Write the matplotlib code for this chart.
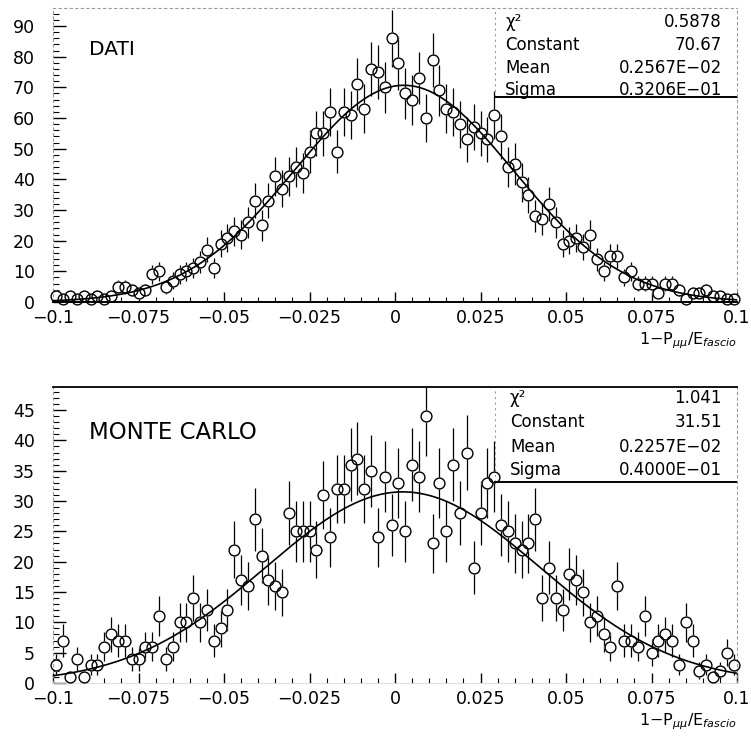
import numpy as np
import matplotlib.pyplot as plt
from matplotlib.ticker import MultipleLocator, FixedLocator

# istogramma: 100 bin tra -0.1 e 0.1
x_lo, x_hi, n_bins = -0.1, 0.1, 100

dati_counts = [2, 1, 2, 1, 2, 1, 2, 1, 2, 5,
               5, 4, 3, 4, 9, 10, 5, 7, 9, 10,
               11, 13, 17, 11, 19, 21, 23, 22, 26, 33,
               25, 33, 41, 37, 41, 44, 42, 49, 55, 55,
               62, 49, 62, 61, 71, 63, 76, 75, 70, 86,
               78, 68, 66, 73, 60, 79, 69, 63, 62, 58,
               53, 57, 55, 53, 61, 54, 44, 45, 39, 35,
               28, 27, 32, 26, 19, 20, 21, 18, 22, 14,
               10, 15, 15, 8, 10, 6, 6, 6, 3, 6,
               6, 4, 1, 3, 3, 4, 2, 2, 1, 1]

mc_counts = [3, 7, 1, 4, 1, 3, 3, 6, 8, 7,
             7, 4, 4, 6, 6, 11, 4, 6, 10, 10,
             14, 10, 12, 7, 9, 12, 22, 17, 16, 27,
             21, 17, 16, 15, 28, 25, 25, 25, 22, 31,
             24, 32, 32, 36, 37, 32, 35, 24, 34, 26,
             33, 25, 36, 34, 44, 23, 33, 25, 36, 28,
             38, 19, 28, 33, 34, 26, 25, 23, 22, 23,
             27, 14, 19, 14, 12, 18, 17, 15, 10, 11,
             8, 6, 16, 7, 7, 6, 11, 5, 7, 8,
             7, 3, 10, 7, 2, 3, 1, 2, 5, 3]

# parametri del fit gaussiano (dal riquadro)
dati_fit = dict(const=70.67, mean=0.2567E-02, sigma=0.3206E-01)
mc_fit = dict(const=31.51, mean=0.2257E-02, sigma=0.4000E-01)
dati_fit_txt = ['0.5878', '70.67', '0.2567E\u221202', '0.3206E\u221201']
mc_fit_txt = ['1.041', '31.51', '0.2257E\u221202', '0.4000E\u221201']
stat_names = ['\u03c7\u00b2', 'Constant', 'Mean', 'Sigma']

x_ticks = [-0.1, -0.075, -0.05, -0.025, 0, 0.025, 0.05, 0.075, 0.1]
x_ticklabels = ['\u22120.1', '\u22120.075', '\u22120.05', '\u22120.025', '0',
                '0.025', '0.05', '0.075', '0.1']

plt.rcParams['font.family'] = ['DejaVu Sans']

edges = np.linspace(x_lo, x_hi, n_bins + 1)
centers = 0.5 * (edges[:-1] + edges[1:])


def draw_panel(ax, counts, fit, fit_txt, title, ymax, ymajor, yminor, box_y, rows_y, txt_left):
    counts = np.array(counts, dtype=float)
    err = np.sqrt(counts)
    ax.errorbar(centers, counts, yerr=err, fmt='none', ecolor='black', elinewidth=0.9, zorder=1)
    ax.plot(centers, counts, 'o', ms=7.8, mfc='white', mec='white', zorder=2, clip_on=False)
    xf = np.linspace(x_lo, x_hi, 400)
    yf = fit['const'] * np.exp(-0.5 * ((xf - fit['mean']) / fit['sigma']) ** 2)
    ax.plot(xf, yf, color='black', lw=1.2, zorder=3)
    ax.plot(centers, counts, 'o', ms=7.8, mfc='none', mec='black', mew=1.0, zorder=4, clip_on=False)

    ax.set_xlim(x_lo, x_hi)
    ax.set_ylim(0, ymax)
    ax.xaxis.set_major_locator(FixedLocator(x_ticks))
    ax.set_xticklabels(x_ticklabels)
    ax.xaxis.set_minor_locator(MultipleLocator(0.005))
    ax.yaxis.set_major_locator(MultipleLocator(ymajor))
    ax.yaxis.set_minor_locator(MultipleLocator(yminor))
    ax.tick_params(axis='x', which='major', direction='in', length=7, width=1.0, labelsize=12.5, pad=5)
    ax.tick_params(axis='x', which='minor', direction='in', length=3.5, width=0.8)
    ax.tick_params(axis='y', which='major', direction='in', length=9, width=1.0, labelsize=12.5, pad=13)
    ax.tick_params(axis='y', which='minor', direction='in', length=4, width=0.8)

    for s in ['left', 'right', 'top']:
        ax.spines[s].set_linestyle((0, (2, 3)))
        ax.spines[s].set_color('#9a9a9a')
        ax.spines[s].set_linewidth(0.8)

    ax.text(0.053, title[1], title[0], transform=ax.transAxes, fontsize=title[2], va='center', ha='left')

    # riquadro statistico
    ax.plot([0.646, 0.646], [box_y, 1], transform=ax.transAxes, color='#9a9a9a', lw=0.8,
            ls=(0, (2, 3)), clip_on=False)
    ax.plot([0.646, 1], [box_y, box_y], transform=ax.transAxes, color='black', lw=1.4, clip_on=False)
    for name, val, yy in zip(stat_names, fit_txt, rows_y):
        ax.text(txt_left, yy, name, transform=ax.transAxes, fontsize=12, va='center', ha='left')
        ax.text(0.978, yy, val, transform=ax.transAxes, fontsize=12, va='center', ha='right')


fig = plt.figure(figsize=(7.51, 7.36), dpi=100)
ax1 = fig.add_axes([0.0706, 0.5897, 0.9108, 0.3995])
ax2 = fig.add_axes([0.0706, 0.0720, 0.9108, 0.4022])

draw_panel(ax1, dati_counts, dati_fit, dati_fit_txt, ('DATI', 0.857, 14.5), 95.9, 10, 2,
           0.697, [0.952, 0.874, 0.796, 0.721], 0.661)
ax1.spines['bottom'].set_linewidth(1.4)

draw_panel(ax2, mc_counts, mc_fit, mc_fit_txt, ('MONTE CARLO', 0.845, 16.5), 48.8, 5, 1,
           0.679, [0.963, 0.882, 0.797, 0.720], 0.668)
ax2.spines['top'].set_linestyle('-')
ax2.spines['top'].set_color('black')
ax2.spines['top'].set_linewidth(1.3)
ax2.spines['bottom'].set_color('#d8d8d8')
ax2.spines['bottom'].set_linewidth(0.6)

xlab = '1\u2212P$_{\\mu\\mu}$/E$_{fascio}$'
fig.text(0.981, 0.537, xlab, ha='right', va='center', fontsize=11.5)
fig.text(0.981, 0.019, xlab, ha='right', va='center', fontsize=11.5)

plt.savefig('out.png', dpi=100)
